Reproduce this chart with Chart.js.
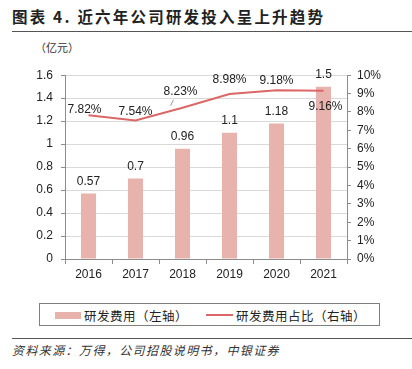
<!DOCTYPE html>
<html>
<head>
<meta charset="utf-8">
<script src="https://cdn.jsdelivr.net/npm/chart.js@4"></script>
<style>
  body { margin: 0; width: 412px; height: 369px; background: #fff; position: relative; overflow: hidden; font-family: "Liberation Sans", Arial, sans-serif; }
  #title { position: absolute; left: 12px; top: 5px; font: bold 15.5px "Noto Sans CJK SC", sans-serif; color: #222; letter-spacing: 2.2px; }
  .rule { position: absolute; left: 12px; right: 0; height: 0; border-top: 1.5px solid #555; }
  #unit { position: absolute; left: 35px; top: 39px; font: 11px "Noto Sans CJK SC", sans-serif; color: #333; }
  #wrap { position: absolute; left: 0; top: 60px; width: 412px; height: 232px; }
  #legend { position: absolute; left: 39px; top: 303px; width: 341px; height: 23px; border: 1px solid #7f7f7f; box-sizing: border-box; font: 12.5px "Noto Sans CJK SC", sans-serif; color: #222; letter-spacing: 0.5px; }
  .sw { position: absolute; }
  .lt { position: absolute; top: 2px; }
  #source { position: absolute; left: 12px; top: 341px; font: italic 12px "Noto Sans CJK SC", sans-serif; color: #333; letter-spacing: 1.4px; }
</style>
</head>
<body>
<div id="title">图表 4. 近六年公司研发投入呈上升趋势</div>
<div class="rule" style="top:31px"></div>
<div id="unit">（亿元）</div>
<div id="wrap"><canvas id="c"></canvas></div>
<div id="legend">
  <div class="sw" style="left:15px;top:8px;width:26px;height:7px;background:#E8B3AD"></div>
  <div class="lt" style="left:44px">研发费用（左轴）</div>
  <div class="sw" style="left:166px;top:10px;width:27px;height:2px;background:#DC6767"></div>
  <div class="lt" style="left:196px">研发费用占比（右轴）</div>
</div>
<div class="rule" style="top:338px"></div>
<div id="source">资料来源：万得，公司招股说明书，中银证券</div>
<script>
const years = ["2016", "2017", "2018", "2019", "2020", "2021"];
const rdSpend = [0.57, 0.7, 0.96, 1.1, 1.18, 1.5];
const rdRatio = [7.82, 7.54, 8.23, 8.98, 9.18, 9.16];
const ratioLabels = ["7.82%", "7.54%", "8.23%", "8.98%", "9.18%", "9.16%"];

const axisColor = "#8c8c8c";
const tickFont = { family: "'Liberation Sans', Arial, sans-serif", size: 12 };

// value labels for bars and line points
const valueLabels = {
  id: "valueLabels",
  afterDatasetsDraw(chart) {
    const ctx = chart.ctx;
    ctx.save();
    ctx.font = "12px 'Liberation Sans', Arial, sans-serif";
    ctx.fillStyle = "#222";
    ctx.textAlign = "center";
    ctx.textBaseline = "middle";
    chart.getDatasetMeta(0).data.forEach((bar, i) => {
      ctx.fillText(String(rdSpend[i]), bar.x, bar.y - 12);
    });
    chart.getDatasetMeta(1).data.forEach((pt, i) => {
      let dx = 0, dy = -9;
      if (i === 0) dx = -4, dy = -6;
      if (i === 2) {
        dx = -2; dy = -16;
        ctx.strokeStyle = "#999";
        ctx.lineWidth = 1;
        ctx.beginPath();
        ctx.moveTo(pt.x - 12, pt.y - 2);
        ctx.lineTo(pt.x - 9, pt.y - 8);
        ctx.stroke();
      }
      if (i === 3) dy = -14;
      if (i === 4) dy = -10;
      if (i === 5) dx = 2, dy = 16;
      ctx.fillText(ratioLabels[i], pt.x + dx, pt.y + dy);
    });
    ctx.restore();
  }
};

new Chart(document.getElementById("c"), {
  data: {
    labels: years,
    datasets: [
      {
        type: "bar",
        label: "研发费用（左轴）",
        data: rdSpend,
        backgroundColor: "#E8B3AD",
        barPercentage: 0.32,
        categoryPercentage: 1,
        yAxisID: "y",
        order: 2
      },
      {
        type: "line",
        label: "研发费用占比（右轴）",
        data: rdRatio,
        borderColor: "#DC6767",
        borderWidth: 2,
        pointRadius: 0,
        tension: 0,
        yAxisID: "y1",
        order: 1
      }
    ]
  },
  options: {
    responsive: true,
    maintainAspectRatio: false,
    animation: false,
    layout: { padding: { top: 10, left: 0, right: 0, bottom: 0 } },
    plugins: { legend: { display: false }, tooltip: { enabled: false } },
    scales: {
      x: {
        offset: true,
        grid: { offset: true, drawOnChartArea: false, tickLength: 5, tickColor: axisColor },
        border: { color: axisColor, width: 1 },
        ticks: { color: "#222", font: tickFont, padding: 3, maxRotation: 0 },
        afterFit(s) { s.height = 33; }
      },
      y: {
        position: "left",
        min: 0,
        max: 1.6,
        ticks: { stepSize: 0.2, color: "#222", font: tickFont, padding: 8, callback: v => String(+v.toFixed(1)) },
        grid: { color: "#d9d9d9", borderDash: [1, 2], tickLength: 4, tickColor: axisColor, tickBorderDash: [] },
        border: { color: axisColor, width: 1, dash: [] },
        afterFit(s) { s.width = 65; }
      },
      y1: {
        position: "right",
        min: 0,
        max: 10,
        ticks: { stepSize: 1, color: "#222", font: tickFont, padding: 6, callback: v => v + "%" },
        grid: { drawOnChartArea: false, tickLength: 4, tickColor: axisColor },
        border: { color: axisColor, width: 1 },
        afterFit(s) { s.width = 65; }
      }
    }
  },
  plugins: [valueLabels]
});
</script>
</body>
</html>
